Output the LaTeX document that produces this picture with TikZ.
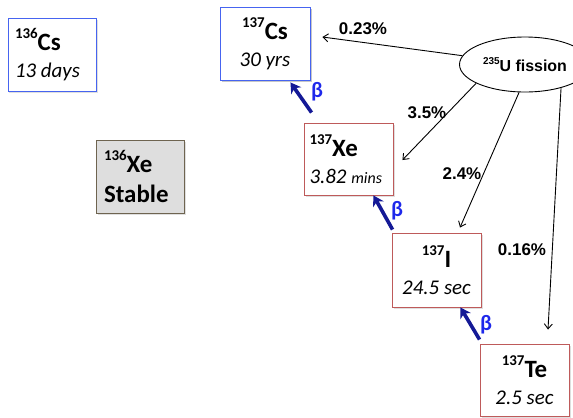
\documentclass[tikz,border=0pt]{standalone}
\usepackage{fontspec}
\setmainfont{Carlito}
\newfontfamily\arialfont{Liberation Sans}
\usetikzlibrary{arrows.meta,calc,shapes.geometric,shadows}
\definecolor{boxblue}{RGB}{70,100,240}
\definecolor{boxred}{RGB}{190,90,90}
\definecolor{xegray}{RGB}{222,222,222}
\definecolor{xeborder}{RGB}{110,100,80}
\definecolor{betanavy}{RGB}{20,25,150}
\definecolor{betablue}{RGB}{30,40,235}
\tikzset{
  x=1bp,y=-1bp,
  isobox/.style={draw,line width=0.9bp,fill=white,inner sep=0pt,
    minimum width=#1,minimum height=73bp,font=\fontsize{25}{27}\selectfont,
    drop shadow={shadow xshift=1.5bp,shadow yshift=-1.5bp,opacity=0.25}},
  bluebox/.style={isobox=88bp,draw=boxblue},
  redbox/.style={isobox=89bp,draw=boxred},
  graybox/.style={isobox=88bp,draw=xeborder,fill=xegray},
  leftalign/.style={align=flush left,text width=#1},
  centeralign/.style={align=center},
  pct/.style={font=\arialfont\bfseries\fontsize{17}{19}\selectfont},
  fissionarrow/.style={-{Straight Barb[length=5bp,width=8bp]},line width=0.9bp},
  betaarrow/.style={-{Stealth[length=10bp,width=12bp,inset=3bp]},line width=3.6bp,draw=betanavy},
  betalabel/.style={text=betablue,font=\bfseries\fontsize{22}{24}\selectfont,inner sep=0pt},
}
\newcommand{\isoname}[2]{\textbf{\raisebox{0.5em}{\fontsize{15}{15}\selectfont #1}#2}}
\newcommand{\halflife}[1]{{\itshape\fontsize{21}{27}\selectfont #1}}
\begin{document}
\begin{tikzpicture}
\useasboundingbox (0,0) rectangle (573,417);
\clip (0,0) rectangle (573,417);
% boxes
\node[bluebox,leftalign=74bp] (cs136) at (52,54.5)
  {\isoname{136}{Cs}\\\halflife{13 days}};
\node[bluebox,isobox=90bp,draw=boxblue,centeralign] (cs137) at (265,43.5)
  {\isoname{137}{Cs}\\\halflife{30 yrs}};
\node[graybox,leftalign=72bp] (xe136) at (140,176.5)
  {\isoname{136}{Xe}\\[3bp]\textbf{Stable}};
\node[redbox,leftalign=78bp,minimum height=72bp] (xe137) at (348.5,159)
  {\isoname{137}{Xe}\\\halflife{3.82 {\fontsize{16}{16}\selectfont mins}}};
\node[redbox,centeralign,minimum height=74bp] (i137) at (436.5,270)
  {\isoname{137}{I}\\\halflife{24.5 sec}};
\node[redbox,centeralign,minimum height=72bp] (te137) at (524.5,380)
  {\isoname{137}{Te}\\\halflife{2.5 sec}};
% fission ellipse
\node[draw,ellipse,line width=0.9bp,fill=white,minimum width=131bp,minimum height=55bp,inner sep=0pt,
  font=\arialfont\bfseries\fontsize{16}{18}\selectfont] (fis) at (525,64.5)
  {\raisebox{0.45em}{\fontsize{10}{10}\selectfont 235}U fission};
% fission arrows
\draw[fissionarrow] (fis.172) -- ($(cs137.east)+(12,-6.5)$);
\draw[fissionarrow] (fis.201) -- ($(xe137.east)+(9,1)$);
\draw[fissionarrow] (fis.258) -- ($(i137.north)+(23.5,-5)$);
\draw[fissionarrow] (fis.327) -- ($(te137.north)+(23.5,-14)$);
\node[pct] (p1) at (363,29) {0.23\%};
\node[pct] (p2) at (427,113) {3.5\%};
\node[pct] (p3) at (462,174) {2.4\%};
\node[pct] (p4) at (522,250) {0.16\%};
% beta arrows
\draw[betaarrow] ($(xe137.north west)+(8,-10)$) -- ($(cs137.south east)+(-20,2)$);
\draw[betaarrow] ($(i137.north west)+(1,-3)$) -- ($(xe137.south east)+(-20,0)$);
\draw[betaarrow] ($(te137.north west)+(0,-4)$) -- ($(i137.south east)+(-21,0)$);
\node[betalabel] (b1) at (317,92) {β};
\node[betalabel] (b2) at (397,211) {β};
\node[betalabel] (b3) at (486,325) {β};
\end{tikzpicture}
\end{document}
